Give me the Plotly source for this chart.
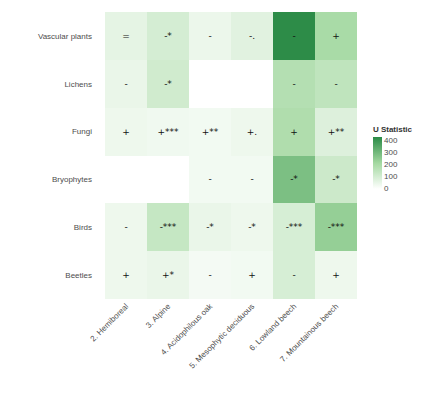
import plotly.graph_objects as go

# Forest types (columns) and taxonomic groups (rows, top to bottom)
forest_types = ["2. Hemiboreal", "3. Alpine", "4. Acidophilous oak",
                "5. Mesophytic deciduous", "6. Lowland beech", "7. Mountainous beech"]
groups = ["Vascular plants", "Lichens", "Fungi", "Bryophytes", "Birds", "Beetles"]

# U statistic per group x forest type (None = not tested)
u_vascular = [60, 100, 45, 70, 425, 200]
u_lichens = [50, 110, None, None, 175, 150]
u_fungi = [40, 35, 30, 40, 185, 80]
u_bryophytes = [None, None, 30, 30, 285, 120]
u_birds = [40, 135, 50, 40, 95, 240]
u_beetles = [40, 50, 25, 30, 95, 40]

# Direction of effect and significance stars
lab_vascular = ["=", "-*", "-", "-.", "-", "+"]
lab_lichens = ["-", "-*", "", "", "-", "-"]
lab_fungi = ["+", "+***", "+**", "+.", "+", "+**"]
lab_bryophytes = ["", "", "-", "-", "-*", "-*"]
lab_birds = ["-", "-***", "-*", "-*", "-***", "-***"]
lab_beetles = ["+", "+*", "-", "+", "-", "+"]

z = [u_vascular, u_lichens, u_fungi, u_bryophytes, u_birds, u_beetles]
labels = [lab_vascular, lab_lichens, lab_fungi, lab_bryophytes, lab_birds, lab_beetles]

fig = go.Figure(go.Heatmap(
    x=forest_types, y=groups, z=z,
    text=labels, texttemplate="%{text}",
    textfont=dict(size=9, color="#111111", family="DejaVu Sans"),
    colorscale=[[0, "#ffffff"], [0.5, "#a3d8a0"], [1, "#2a8a46"]],
    zmin=0, zmax=430, xgap=0, ygap=0, hoverongaps=False,
    colorbar=dict(
        title=dict(text="<b>U Statistic</b>", side="top",
                   font=dict(size=8, color="#333333", family="Liberation Sans")),
        tickvals=[0, 100, 200, 300, 400],
        tickfont=dict(size=8, color="#4d4d4d", family="Liberation Sans"),
        thickness=9, thicknessmode="pixels",
        len=66, lenmode="pixels",
        x=1.063, xanchor="left", y=0.5, yanchor="middle",
        xpad=0, ypad=0,
        outlinewidth=0, ticks="", ticklen=0,
    ),
))

fig.update_xaxes(tickangle=-45, showgrid=False, zeroline=False, ticks="",
                 showline=False,
                 tickfont=dict(size=8, color="#4d4d4d", family="Liberation Sans"))
fig.update_yaxes(autorange="reversed", showgrid=False, zeroline=False, ticks="",
                 showline=False, ticklabelstandoff=12,
                 tickfont=dict(size=8, color="#4d4d4d", family="Liberation Sans"))

fig.update_layout(
    template="none",
    width=425, height=411,
    margin=dict(l=105, r=68, t=12, b=112),
    paper_bgcolor="white", plot_bgcolor="white",
)

fig.write_html("out.html")
